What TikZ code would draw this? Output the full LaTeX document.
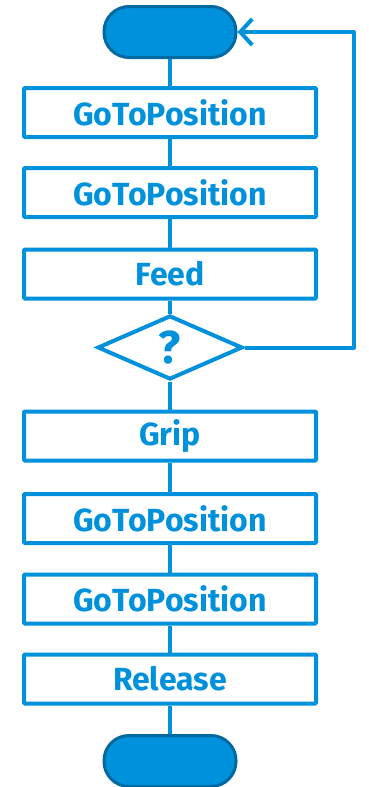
\documentclass[tikz,border=0pt]{standalone}
\usepackage{fontspec}
\setmainfont{Fira Sans}
\usetikzlibrary{shapes.geometric,arrows.meta}
\definecolor{fblue}{RGB}{0,145,220}
\definecolor{fdark}{RGB}{0,105,160}
\tikzset{
  stepbox/.style={draw=fblue, line width=4pt, fill=white, minimum width=292pt, minimum height=49pt, inner sep=0pt, font=\fontsize{32}{34}\selectfont\bfseries, text=fblue, rounded corners=1pt},
  term/.style={draw=fdark, line width=3pt, fill=fblue, minimum width=132pt, minimum height=51pt, rounded corners=25pt},
  decide/.style={draw=fblue, line width=4pt, fill=white, diamond, aspect=2.25, minimum width=145pt, minimum height=64pt, inner sep=0pt, font=\fontsize{46}{48}\selectfont\bfseries, text=fblue},
  conn/.style={draw=fblue, line width=4pt}
}
\begin{document}
\begin{tikzpicture}[x=1pt,y=-1pt]
\useasboundingbox (0,0) rectangle (368,787);
\node[term] (start) at (170,32) {};
\node[stepbox] (g1) at (170,112.5) {GoToPosition};
\node[stepbox] (g2) at (170,192.5) {GoToPosition};
\node[stepbox] (feed) at (170,274) {Feed};
\node[decide] (q) at (170,347.5) {?};
\node[stepbox] (grip) at (170,436) {Grip};
\node[stepbox] (g3) at (170,518.5) {GoToPosition};
\node[stepbox] (g4) at (170,599) {GoToPosition};
\node[stepbox] (rel) at (170,679) {Release};
\node[term] (end) at (170,761) {};
\coordinate (c1) at (354,347.5);
\coordinate (c2) at (354,32);
\draw[conn] (start) -- (g1);
\draw[conn] (g1) -- (g2);
\draw[conn] (g2) -- (feed);
\draw[conn] (feed) -- (q);
\draw[conn] (q) -- (grip);
\draw[conn] (grip) -- (g3);
\draw[conn] (g3) -- (g4);
\draw[conn] (g4) -- (rel);
\draw[conn] (rel) -- (end);
\draw[conn, line join=round, -{Straight Barb[length=12pt,width=26pt,line width=4pt]}] (q.east) -- (c1) -- (c2) -- (start.east);
\end{tikzpicture}
\end{document}
